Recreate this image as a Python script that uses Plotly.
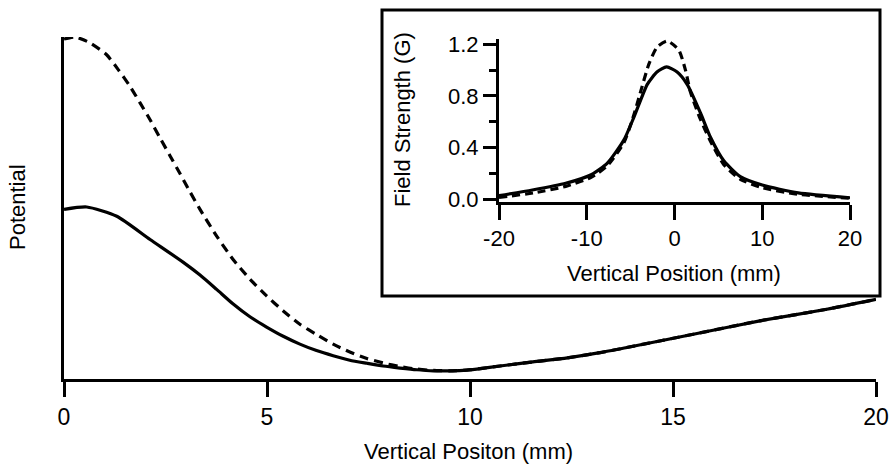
import plotly.graph_objects as go

# ---------------- data ----------------
# Main panel: potential (arbitrary units) vs vertical position (mm)
pos_solid = [0, 0.56, 1.3, 2.12, 2.94, 3.35, 3.76, 4.16, 4.58, 4.99, 5.4, 5.81,
             6.22, 6.63, 7.04, 7.46, 7.86, 8.28, 8.69, 9.1, 9.5, 9.92, 10.3,
             10.74, 11.55, 12.4, 13.2, 13.86, 15.5, 17.14, 18.79, 20]
pot_solid = [49.6, 50.3, 47.6, 40.8, 34.1, 30.4, 26.2, 22.0, 18.2, 15.2, 12.5, 10.2,
             8.3, 6.8, 5.5, 4.6, 3.8, 3.2, 2.7, 2.4, 2.4, 2.6, 3.1,
             3.8, 5.0, 6.2, 7.7, 9.2, 13.1, 17.0, 20.4, 23.3]

pos_dash = [0, 0.27, 0.64, 1.05, 1.34, 1.63, 1.87, 2.12, 2.36, 2.61, 2.86, 3.10,
            3.35, 3.76, 4.16, 4.58, 4.99, 5.4, 5.81, 6.22, 6.63, 7.04, 7.46, 7.86,
            8.28, 8.69, 9.1, 9.5, 9.92, 10.3, 10.74, 11.55, 12.4, 13.2, 13.86,
            15.5, 17.14, 18.79, 20]
pot_dash = [99.4, 100, 98.3, 94.8, 90.4, 85.5, 80.8, 75.8, 70.6, 65.3, 60.0, 54.8,
            49.6, 41.8, 35.0, 29.2, 24.3, 19.9, 16.0, 13.0, 10.2, 7.9, 6.0, 4.7,
            3.6, 2.9, 2.5, 2.4, 2.6, 3.1, 3.8, 5.0, 6.2, 7.7, 9.2,
            13.1, 17.0, 20.4, 23.3]

main_xticks = [0, 5, 10, 15, 20]

# Inset: field strength (G) vs vertical position (mm)
fpos_solid = [-20, -16.2, -12.4, -9.5, -7.65, -5.76, -4.6, -3.1, -2.0, -0.9,
              0.3, 1.44, 2.95, 4.1, 5.6, 7.5, 10.0, 14.1, 20]
field_solid = [0.028, 0.072, 0.124, 0.19, 0.28, 0.46, 0.64, 0.89, 0.985, 1.025,
               0.985, 0.89, 0.67, 0.48, 0.30, 0.175, 0.11, 0.05, 0.012]

fpos_dash = [-20, -16, -12.4, -9.5, -7.65, -5.76, -4.6, -4.0, -2.9, -1.97, -0.8,
             0.49, 1.25, 1.82, 2.95, 4.1, 5.6, 7.5, 10, 14, 20]
field_dash = [0.015, 0.05, 0.10, 0.17, 0.26, 0.44, 0.66, 0.80, 1.05, 1.18, 1.225,
              1.155, 1.0, 0.83, 0.62, 0.45, 0.27, 0.155, 0.09, 0.04, 0.008]

inset_xticks = [-20, -10, 0, 10, 20]
inset_xticklabels = ["-20", "-10", "0", "10", "20"]
inset_yticks = [0.0, 0.4, 0.8, 1.2]
inset_yticklabels = ["0.0", "0.4", "0.8", "1.2"]

# ---------------- figure ----------------
W, H = 891, 466
FONT = "Liberation Sans, Arial, Helvetica, sans-serif"
FS = 22


def fx(px):
    return px / W


def fy(py):
    return 1 - py / H


fig = go.Figure()

line_solid = dict(color="black", width=3.2, shape="spline", smoothing=0.6)

fig.add_trace(go.Scatter(x=pos_solid, y=pot_solid, mode="lines", line=line_solid,
                         xaxis="x", yaxis="y", showlegend=False))
fig.add_trace(go.Scatter(x=pos_dash, y=pot_dash, mode="lines",
                         line=dict(line_solid, dash="9px,6px"),
                         xaxis="x", yaxis="y", showlegend=False))

fig.add_trace(go.Scatter(x=fpos_solid, y=field_solid, mode="lines", line=line_solid,
                         xaxis="x2", yaxis="y2", showlegend=False))
fig.add_trace(go.Scatter(x=fpos_dash, y=field_dash, mode="lines",
                         line=dict(line_solid, dash="8px,5px"),
                         xaxis="x2", yaxis="y2", showlegend=False))

axis_common = dict(showgrid=False, zeroline=False, showline=True, linecolor="black",
                   linewidth=3, automargin=False, fixedrange=True)


def label(text, px, py, angle=0):
    return dict(text=text, x=fx(px), y=fy(py), xref="paper", yref="paper",
                xanchor="center", yanchor="middle", showarrow=False,
                textangle=angle, font=dict(size=FS))


fig.update_layout(
    width=W, height=H,
    margin=dict(l=0, r=0, t=0, b=0),
    paper_bgcolor="white", plot_bgcolor="rgba(0,0,0,0)",
    font=dict(family=FONT, size=FS, color="black"),
    xaxis=dict(domain=[fx(64), fx(876)], range=[0, 20], anchor="y",
               tickvals=main_xticks, ticks="outside", ticklen=15, tickwidth=3,
               tickcolor="black", tickfont=dict(size=23), **axis_common),
    yaxis=dict(domain=[fy(379), fy(37)], range=[0, 100], anchor="x",
               showticklabels=False, ticks="", **axis_common),
    xaxis2=dict(domain=[fx(499), fx(850)], range=[-20, 20], anchor="y2",
                tickvals=inset_xticks, ticktext=inset_xticklabels,
                ticks="outside", ticklen=15, tickwidth=3,
                tickcolor="black", tickfont=dict(size=FS), **axis_common),
    yaxis2=dict(domain=[fy(201.5), fy(39)], range=[-0.017, 1.241], anchor="x2",
                tickvals=inset_yticks, ticktext=inset_yticklabels,
                ticks="outside", ticklen=13, tickwidth=3, tickcolor="black",
                minor=dict(tickvals=[0.2, 0.6, 1.0], ticks="outside", ticklen=7,
                           tickwidth=3, tickcolor="black"),
                tickfont=dict(size=FS), **axis_common),
    shapes=[dict(type="rect", xref="paper", yref="paper",
                 x0=fx(382), x1=fx(880), y0=fy(296), y1=fy(10),
                 line=dict(color="black", width=3), fillcolor="white", layer="below")],
    annotations=[
        label("Potential", 17, 207, -90),
        label("Vertical Positon (mm)", 468, 451),
        label("Field Strength (G)", 402, 120, -90),
        label("Vertical Position (mm)", 674, 273),
    ],
)

fig.write_html("out.html")
